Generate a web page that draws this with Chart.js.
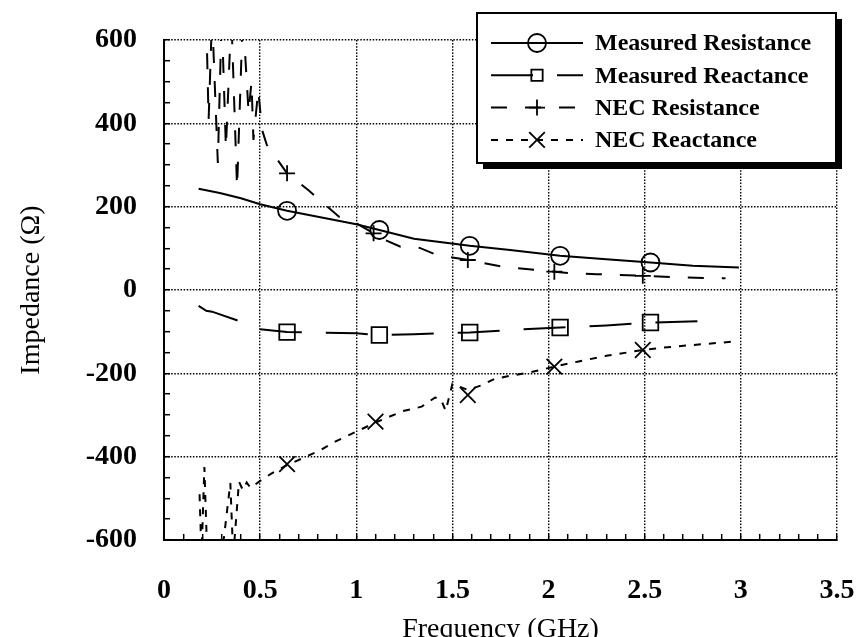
<!DOCTYPE html>
<html>
<head>
<meta charset="utf-8">
<script src="https://cdn.jsdelivr.net/npm/chart.js@4/dist/chart.umd.min.js"></script>
<style>
  html, body { margin: 0; padding: 0; background: #fff; }
  #wrap { width: 858px; height: 637px; }
</style>
</head>
<body>
<div id="wrap"><canvas id="impedanceChart" width="858" height="637"></canvas></div>
<script>
// 凡例ラベル
const seriesLabels = ['Measured Resistance', 'Measured Reactance', 'NEC Resistance', 'NEC Reactance'];

// 測定抵抗 (実線)
const measResFreq = [0.18, 0.29, 0.4, 0.5, 0.64, 0.8, 1.0, 1.12, 1.3, 1.59, 1.8, 2.06, 2.3, 2.53, 2.75, 2.99];
const measResVals = [243, 233, 220, 206, 190, 176, 158, 144, 123, 106, 96, 82, 74, 66, 58, 54];
const measResMarkFreq = [0.64, 1.12, 1.59, 2.06, 2.53];
const measResMarkVals = [190, 144, 106, 82, 66];

// 測定リアクタンス (長破線)
const measReacFreq = [0.18, 0.22, 0.25, 0.4, 0.5, 0.64, 0.8, 1.0, 1.12, 1.3, 1.59, 1.8, 2.06, 2.3, 2.53, 2.89];
const measReacVals = [-38, -50, -52, -76, -94, -101, -102, -104, -108, -106, -102, -96, -90, -85, -78, -74];
const measReacMarkFreq = [0.64, 1.12, 1.59, 2.06, 2.53];
const measReacMarkVals = [-101, -108, -102, -90, -78];

// NEC 抵抗 (破線)
const necResFreq = [0.22, 0.232, 0.25, 0.28, 0.30, 0.322, 0.35, 0.38, 0.41, 0.44, 0.455, 0.465, 0.49, 0.51, 0.535, 0.565,
    0.64, 0.75, 0.84, 0.91, 1.0, 1.09, 1.15, 1.23, 1.33, 1.42, 1.5, 1.58, 1.65, 1.76, 1.84, 2.03, 2.1, 2.25, 2.49, 2.7, 2.92];
const necResVals = [650, 408, 660, 305, 660, 340, 660, 245, 660, 425, 500, 360, 480, 384, 348, 329,
    280, 240, 204, 176, 160, 136, 120, 104, 101, 84, 78, 72, 66, 56, 52, 44, 41, 38, 34, 30, 28];
const necResMarkFreq = [0.64, 1.09, 1.58, 2.03, 2.49];
const necResMarkVals = [280, 136, 72, 44, 34];

// NEC リアクタンス (短破線)
const necReacFreq = [0.185, 0.195, 0.21, 0.225, 0.30, 0.345, 0.36, 0.39, 0.41, 0.43, 0.45, 0.50, 0.56, 0.64, 0.72, 0.81,
    0.89, 1.0, 1.1, 1.24, 1.34, 1.41, 1.44, 1.465, 1.5, 1.58, 1.65, 1.72, 1.8, 1.9, 2.03, 2.15, 2.3, 2.49, 2.6, 2.8, 2.96];
const necReacVals = [-490, -640, -425, -640, -640, -463, -640, -460, -480, -462, -475, -458, -440, -420, -404, -385,
    -364, -340, -318, -291, -280, -258, -262, -290, -225, -240, -229, -213, -206, -198, -184, -172, -158, -144, -138, -130, -124];
const necReacMarkFreq = [0.64, 1.1, 1.58, 2.03, 2.49];
const necReacMarkVals = [-418, -316, -252, -184, -144];

const toPoints = (xs, ys) => xs.map((x, i) => ({ x: x, y: ys[i] }));

// 線種とマーカー
const styles = [
    { dash: [], pointStyle: 'circle', radius: 9 },
    { dash: [42, 24], pointStyle: 'rect', radius: 11 },
    { dash: [16, 18], pointStyle: 'cross', radius: 8 },
    { dash: [7, 8], pointStyle: 'crossRot', radius: 11 }
];

function lineSet(xs, ys, st) {
    return {
        data: toPoints(xs, ys),
        borderColor: '#000',
        borderWidth: 2,
        borderDash: st.dash,
        pointRadius: 0,
        tension: 0,
        fill: false
    };
}

function markSet(xs, ys, st) {
    return {
        data: toPoints(xs, ys),
        showLine: false,
        pointStyle: st.pointStyle,
        pointRadius: st.radius,
        pointBorderWidth: 1.8,
        pointBorderColor: '#000',
        pointBackgroundColor: 'rgba(0,0,0,0)'
    };
}

// 影付きの枠で囲んだ凡例
const boxLegend = {
    id: 'boxLegend',
    afterDraw(chart) {
        const ctx = chart.ctx;
        const bx = 477, by = 13, bw = 359, bh = 150;
        ctx.save();
        ctx.fillStyle = '#000';
        ctx.fillRect(bx + 6, by + 6, bw, bh);
        ctx.fillStyle = '#fff';
        ctx.fillRect(bx, by, bw, bh);
        ctx.lineWidth = 2;
        ctx.strokeStyle = '#000';
        ctx.strokeRect(bx, by, bw, bh);

        seriesLabels.forEach((label, i) => {
            const st = styles[i];
            const y = 43 + i * 32.3;
            ctx.save();
            ctx.strokeStyle = '#000';
            ctx.lineWidth = 2;
            ctx.setLineDash(st.dash);
            ctx.beginPath();
            ctx.moveTo(491, y);
            ctx.lineTo(583, y);
            ctx.stroke();
            ctx.setLineDash([]);
            ctx.fillStyle = 'rgba(0,0,0,0)';
            ctx.lineWidth = 1.8;
            Chart.helpers.drawPoint(ctx, {
                pointStyle: st.pointStyle,
                radius: i === 1 ? 8 : st.radius,
                rotation: 0,
                borderWidth: 1.8
            }, 537, y);
            ctx.restore();

            ctx.fillStyle = '#000';
            ctx.font = 'bold 24px "Liberation Serif"';
            ctx.textAlign = 'left';
            ctx.textBaseline = 'middle';
            ctx.fillText(label, 595, y + 1);
        });
        ctx.restore();
    }
};

Chart.defaults.font.family = '"Liberation Serif", serif';
Chart.defaults.color = '#000';

const datasets = [
    lineSet(measResFreq, measResVals, styles[0]),
    markSet(measResMarkFreq, measResMarkVals, styles[0]),
    lineSet(measReacFreq, measReacVals, styles[1]),
    markSet(measReacMarkFreq, measReacMarkVals, styles[1]),
    lineSet(necResFreq, necResVals, styles[2]),
    markSet(necResMarkFreq, necResMarkVals, styles[2]),
    lineSet(necReacFreq, necReacVals, styles[3]),
    markSet(necReacMarkFreq, necReacMarkVals, styles[3])
];

const isMajorX = v => Math.round(v * 10) % 5 === 0;
const isMajorY = v => Math.round(v) % 200 === 0;

const ctx = document.getElementById('impedanceChart').getContext('2d');
new Chart(ctx, {
    type: 'line',
    data: { datasets: datasets },
    options: {
        responsive: false,
        animation: false,
        layout: { padding: { left: 0, right: 21, top: 40, bottom: 0 } },
        plugins: {
            legend: { display: false },
            tooltip: { enabled: false }
        },
        scales: {
            x: {
                type: 'linear',
                min: 0,
                max: 3.5,
                afterFit: scale => {
                    scale.height = 97;
                    scale.paddingLeft = 0;
                    scale.paddingRight = 0;
                },
                ticks: {
                    stepSize: 0.1,
                    maxTicksLimit: 100,
                    autoSkip: false,
                    maxRotation: 0,
                    padding: 40,
                    font: { size: 28, weight: 'bold' },
                    callback: v => {
                        const t = Math.round(v * 10);
                        return t % 5 === 0 ? String(t / 10) : '';
                    }
                },
                grid: {
                    color: c => (c.tick && isMajorX(c.tick.value) ? '#000' : 'rgba(0,0,0,0)'),
                    lineWidth: 1.4,
                    tickColor: '#000',
                    tickLength: -6,
                    tickWidth: 1.5
                },
                border: { color: '#000', width: 2, dash: [1.5, 1.6] },
                title: {
                    display: true,
                    text: 'Frequency (GHz)',
                    font: { size: 28, lineHeight: 0.55 },
                    padding: 0
                }
            },
            y: {
                type: 'linear',
                min: -600,
                max: 600,
                afterFit: scale => {
                    scale.width = 164;
                    scale.paddingTop = 0;
                    scale.paddingBottom = 0;
                },
                ticks: {
                    stepSize: 50,
                    maxTicksLimit: 100,
                    autoSkip: false,
                    padding: 33,
                    font: { size: 28, weight: 'bold' },
                    callback: v => (isMajorY(v) ? String(v) : '')
                },
                grid: {
                    color: c => (c.tick && isMajorY(c.tick.value) ? '#000' : 'rgba(0,0,0,0)'),
                    lineWidth: 1.4,
                    tickColor: '#000',
                    tickLength: -6,
                    tickWidth: 1.5
                },
                border: { color: '#000', width: 2, dash: [1.5, 1.6] },
                title: {
                    display: true,
                    text: 'Impedance (Ω)',
                    font: { size: 28 },
                    padding: { top: 15, bottom: 0 }
                }
            }
        }
    },
    plugins: [boxLegend]
});
</script>
</body>
</html>
